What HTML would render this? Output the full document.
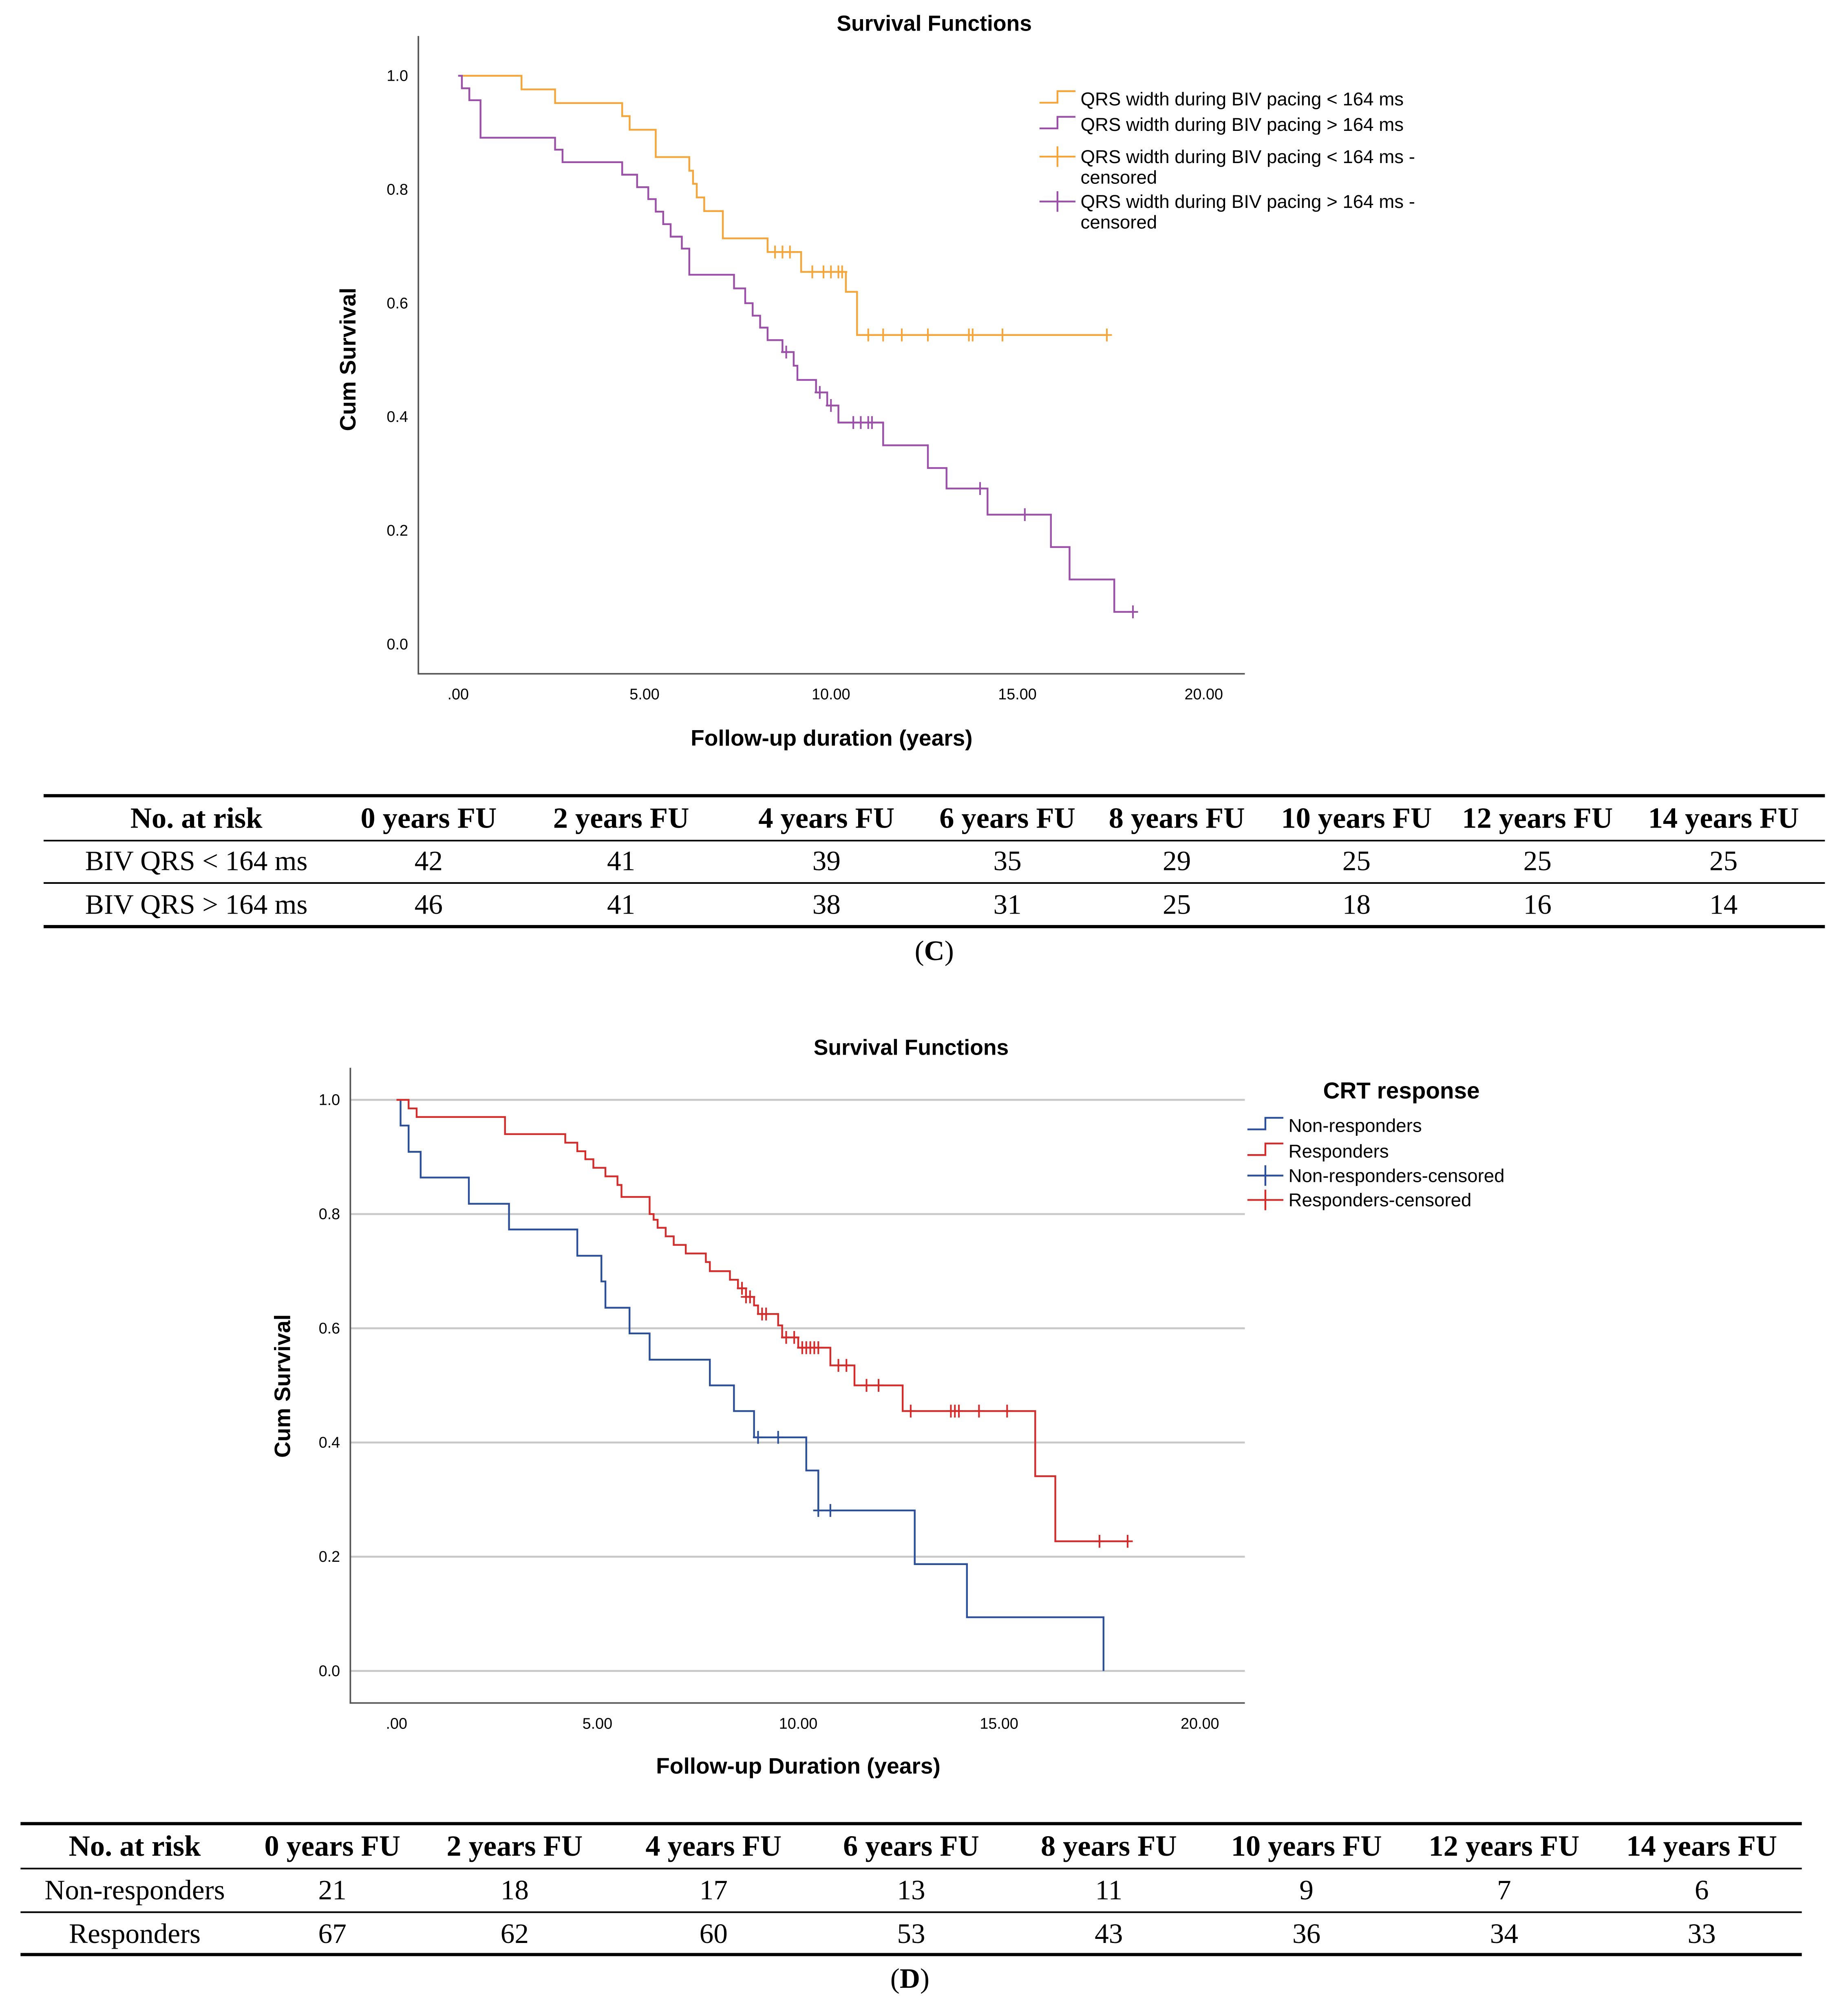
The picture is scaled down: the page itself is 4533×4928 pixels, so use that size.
<!DOCTYPE html>
<html><head><meta charset="utf-8"><style>
html,body{margin:0;padding:0;background:#fff}
svg{display:block}
</style></head><body>
<svg id="fig" xmlns="http://www.w3.org/2000/svg" width="4533" height="4928" viewBox="0 0 1440 1565.4" font-family="Liberation Sans, sans-serif">
<rect width="1440" height="1566" fill="#fff"/>
<g id="chartC"></g>
<g id="chartD"></g>
<g id="tables"></g>
</svg>
<script>
// ---- Chart C data ----
const cOrangeTimes=[0,1.7,2.6,4.4,4.6,5.3,6.2,6.3,6.4,6.6,7.1,8.3,9.2,10.4,10.7];
const cOrangeSurv=[1,.976,.952,.929,.905,.857,.833,.81,.786,.762,.714,.690,.655,.62,.544];
const cOrangeCens=[8.5,8.7,8.9,9.5,9.8,10.0,10.2,10.3,11.0,11.4,11.9,12.6,13.7,13.8,14.6,17.4];
const cPurpleTimes=[0,0.1,0.3,0.6,2.6,2.8,4.4,4.8,5.1,5.3,5.5,5.7,6.0,6.2,7.4,7.7,7.9,8.1,8.3,8.7,9.0,9.1,9.6,9.9,10.2,11.4,12.6,13.1,14.2,15.9,16.4,17.6];
const cPurpleSurv=[1,.978,.957,.891,.87,.848,.826,.804,.783,.761,.739,.717,.696,.65,.626,.60,.578,.557,.535,.514,.49,.465,.443,.42,.39,.35,.31,.274,.228,.171,.114,.057];
const cPurpleCens=[8.8,9.7,10.0,10.6,10.8,11.0,11.1,14.0,15.2,18.1];
// ---- Chart D data ----
const dBlueTimes=[0,0.1,0.3,0.6,1.8,2.8,4.5,5.1,5.2,5.8,6.3,7.8,8.4,8.9,10.2,10.5,12.9,14.2,17.6];
const dBlueSurv=[1,.955,.909,.864,.818,.773,.727,.682,.636,.591,.545,.5,.455,.409,.351,.281,.187,.094,0];
const dBlueCens=[9.0,9.5,10.5,10.8];
const dRedTimes=[0,0.3,0.5,2.7,4.2,4.5,4.7,4.9,5.2,5.5,5.6,6.3,6.4,6.5,6.7,6.9,7.2,7.7,7.8,8.3,8.5,8.7,8.9,9.0,9.5,9.6,10.0,10.8,11.4,12.6,15.9,16.4];
const dRedSurv=[1,.985,.970,.94,.925,.91,.896,.881,.866,.851,.83,.80,.79,.776,.761,.746,.731,.716,.70,.685,.67,.655,.64,.625,.605,.584,.566,.535,.50,.455,.341,.227];
const dRedCens=[8.6,8.7,8.8,9.1,9.2,9.7,9.9,10.1,10.2,10.3,10.4,10.5,11.0,11.2,11.7,12.0,12.8,13.8,13.9,14.0,14.5,15.2,17.5,18.2];
const xTicks=[0,5,10,15,20];
const xTickLabels=[".00","5.00","10.00","15.00","20.00"];
const yTicks=[0,0.2,0.4,0.6,0.8,1.0];
const yTickLabels=["0.0","0.2","0.4","0.6","0.8","1.0"];
// ---- Tables ----
const tableHeaders=["No. at risk","0 years FU","2 years FU","4 years FU","6 years FU","8 years FU","10 years FU","12 years FU","14 years FU"];
const cRowNames=["BIV QRS < 164 ms","BIV QRS > 164 ms"];
const cRow1=[42,41,39,35,29,25,25,25];
const cRow2=[46,41,38,31,25,18,16,14];
const dRowNames=["Non-responders","Responders"];
const dRow1=[21,18,17,13,11,9,7,6];
const dRow2=[67,62,60,53,43,36,34,33];

const NS="http://www.w3.org/2000/svg";
function mk(parent,tag,attrs,text){const e=document.createElementNS(NS,tag);for(const k in attrs)e.setAttribute(k,attrs[k]);if(text!==undefined)e.textContent=text;parent.appendChild(e);return e;}

function survAt(times,surv,t){let s=surv[0];for(let i=0;i<times.length;i++){if(times[i]<=t)s=surv[i];}return s;}

function drawChart(g,cfg){
  const X=t=>cfg.x0+(t)*cfg.pxYr, Y=s=>cfg.y0-s*cfg.pxS;
  let t=mk(g,'text',{x:cfg.titleX,y:cfg.titleY,'text-anchor':'middle','font-size':17,'font-weight':'bold'},'Survival Functions');
  
  if(cfg.grid){yTicks.forEach(v=>{const l=mk(g,'line',{x1:cfg.axL,x2:cfg.axR,y1:Y(v),y2:Y(v),stroke:'#c8c8c8','stroke-width':1.5});
    });}
  let a=mk(g,'path',{d:`M${cfg.axL},${cfg.axT}V${cfg.axB}H${cfg.axR}`,fill:'none',stroke:'#555','stroke-width':1.2});
  
  xTicks.forEach((v,i)=>{const e=mk(g,'text',{x:X(v),y:cfg.axB+20,'text-anchor':'middle','font-size':12},xTickLabels[i]);
    });
  yTicks.forEach((v,i)=>{const e=mk(g,'text',{x:cfg.axL-8,y:Y(v)+4,'text-anchor':'end','font-size':12},yTickLabels[i]);
    });
  let xl=mk(g,'text',{x:cfg.xLabX,y:cfg.xLabY,'text-anchor':'middle','font-size':17.5,'font-weight':'bold'},cfg.xLabel);
  
  let yl=mk(g,'text',{x:0,y:0,transform:`translate(${cfg.yLabX},${cfg.yLabY}) rotate(-90)`,'text-anchor':'middle','font-size':17.5,'font-weight':'bold'},'Cum Survival');
  
  cfg.series.forEach(s=>{
    let d=`M${X(s.times[0])},${Y(s.surv[0])}`;
    for(let i=1;i<s.times.length;i++){d+=`H${X(s.times[i])}V${Y(s.surv[i])}`;}
    d+=`H${X(s.end)}`;
    const p=mk(g,'path',{d:d,fill:'none',stroke:s.color,'stroke-width':1.4});
    
    s.cens.forEach(ct=>{const y=Y(survAt(s.times,s.surv,ct)),x=X(ct);
      const c=mk(g,'path',{d:`M${x},${y-5}V${y+5}M${x-4},${y}H${x+4}`,stroke:s.color,'stroke-width':1.3});
      });
  });
  if(cfg.legTitle){const lt=mk(g,'text',{x:cfg.legTitleX,y:cfg.legTitleY,'text-anchor':'middle','font-size':18,'font-weight':'bold'},cfg.legTitle);
    }
  cfg.legend.forEach(le=>{
    const lg=mk(g,'g',{});
    
    const lx=cfg.legX,y=le.y;
    if(le.type==='line'){mk(lg,'path',{d:`M${lx},${y+3}H${lx+14}V${y-6}H${lx+28}`,fill:'none',stroke:le.color,'stroke-width':1.4});}
    else{mk(lg,'path',{d:`M${lx},${y}H${lx+28}M${lx+14},${y-8}V${y+8}`,fill:'none',stroke:le.color,'stroke-width':1.4});}
    le.lines.forEach((tx,i)=>mk(lg,'text',{x:lx+32,y:y+5+i*16,'font-size':14.5},tx));
  });
}

drawChart(document.getElementById('chartC'),{
  x0:357,pxYr:29.05,y0:502,pxS:443,axL:326,axR:970,axT:28,axB:525,grid:false,
  titleX:728,titleY:24,xLabX:648,xLabY:581,xLabel:'Follow-up duration (years)',yLabX:277,yLabY:280,
  series:[
    {name:'qrs-under-164',color:'#f5a53a',times:cOrangeTimes,surv:cOrangeSurv,cens:cOrangeCens,end:17.4},
    {name:'qrs-over-164',color:'#9b4fa8',times:cPurpleTimes,surv:cPurpleSurv,cens:cPurpleCens,end:18.1}],
  legX:810,legend:[
    {type:'line',color:'#f5a53a',y:77,lines:['QRS width during BIV pacing < 164 ms']},
    {type:'line',color:'#9b4fa8',y:97,lines:['QRS width during BIV pacing > 164 ms']},
    {type:'cens',color:'#f5a53a',y:122,lines:['QRS width during BIV pacing < 164 ms -','censored']},
    {type:'cens',color:'#9b4fa8',y:157,lines:['QRS width during BIV pacing > 164 ms -','censored']}]
});
drawChart(document.getElementById('chartD'),{
  x0:309,pxYr:31.3,y0:1302,pxS:445,axL:273,axR:970,axT:832,axB:1327,grid:true,
  titleX:710,titleY:822,xLabX:622,xLabY:1382,xLabel:'Follow-up Duration (years)',yLabX:226,yLabY:1080,
  series:[
    {name:'non-responders',color:'#2c4f9a',times:dBlueTimes,surv:dBlueSurv,cens:dBlueCens,end:17.6},
    {name:'responders',color:'#d42b2b',times:dRedTimes,surv:dRedSurv,cens:dRedCens,end:18.2}],
  legTitle:'CRT response',legTitleX:1092,legTitleY:856,
  legX:972,legend:[
    {type:'line',color:'#2c4f9a',y:877,lines:['Non-responders']},
    {type:'line',color:'#d42b2b',y:897,lines:['Responders']},
    {type:'cens',color:'#2c4f9a',y:916,lines:['Non-responders-censored']},
    {type:'cens',color:'#d42b2b',y:935,lines:['Responders-censored']}]
});

function drawTable(g,cfg){
  const F='Liberation Serif, serif';
  [[cfg.l0,2.5],[cfg.l1,1.3],[cfg.l2,1.3],[cfg.l3,2.5]].forEach(([y,w])=>{
    const l=mk(g,'line',{x1:cfg.xl,x2:cfg.xr,y1:y,y2:y,stroke:'#000','stroke-width':w});
    });
  tableHeaders.forEach((h,i)=>{const e=mk(g,'text',{x:cfg.cols[i],y:cfg.hy,'text-anchor':'middle','font-size':23,'font-weight':'bold','font-family':F},h);
    });
  [[cfg.names[0],cfg.r1,cfg.ry1],[cfg.names[1],cfg.r2,cfg.ry2]].forEach(([n,vals,y])=>{
    const e=mk(g,'text',{x:cfg.cols[0],y:y,'text-anchor':'middle','font-size':22,'font-family':F},n);
    
    vals.forEach((v,i)=>{const c=mk(g,'text',{x:cfg.cols[i+1],y:y,'text-anchor':'middle','font-size':22,'font-family':F},v);
      });
  });
  const cap=mk(g,'text',{x:cfg.capX,y:cfg.capY,'text-anchor':'middle','font-size':22,'font-family':F},'');
  
  mk(cap,'tspan',{},'(');mk(cap,'tspan',{'font-weight':'bold'},cfg.cap);mk(cap,'tspan',{},')');
}
const tg=document.getElementById('tables');
drawTable(tg,{xl:34,xr:1422,l0:620,l1:655,l2:688,l3:722,hy:645,ry1:678,ry2:712,
  cols:[153,334,484,644,785,917,1057,1198,1343],names:cRowNames,r1:cRow1,r2:cRow2,capX:728,capY:748,cap:'C'});
drawTable(tg,{xl:16,xr:1404,l0:1421,l1:1456,l2:1490,l3:1523,hy:1446,ry1:1480,ry2:1514,
  cols:[105,259,401,556,710,864,1018,1172,1326],names:dRowNames,r1:dRow1,r2:dRow2,capX:709,capY:1549,cap:'D'});
</script>
</body></html>
